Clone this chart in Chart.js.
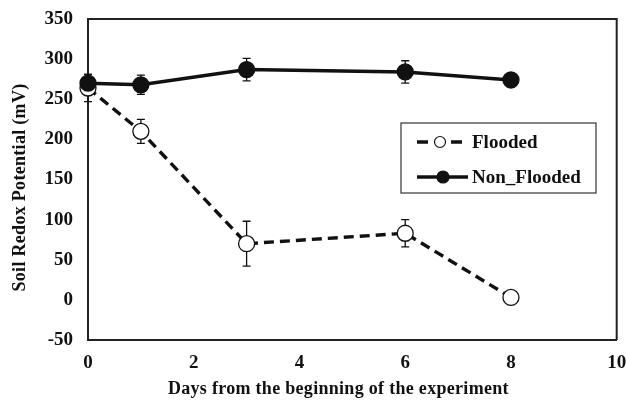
<!DOCTYPE html>
<html>
<head>
<meta charset="utf-8">
<script src="https://cdn.jsdelivr.net/npm/chart.js@4.4.1/dist/chart.umd.min.js"></script>
<style>
  html, body { margin: 0; padding: 0; background: #fff; }
  #wrap { width: 626px; height: 401px; }
</style>
</head>
<body>
<div id="wrap"><canvas id="myChart" width="626" height="401"></canvas></div>
<script>
// Days since start of the experiment
const days = [0, 1, 3, 6, 8];

// Soil redox potential (mV) and error bar half-widths
const flooded = [264, 210, 70, 83, 3];
const floodedErr = [17, 15, 28, 17, 4];
const nonFlooded = [270, 268, 287, 284, 274];
const nonFloodedErr = [11, 12, 14, 14, 4];

const xTicks = [0, 2, 4, 6, 8, 10];
const yTicks = [-50, 0, 50, 100, 150, 200, 250, 300, 350];

const xTitle = 'Days from the beginning of the experiment';
const yTitle = 'Soil Redox Potential (mV)';

const serif = "'Liberation Serif', 'Times New Roman', serif";
const ink = '#111';

function toPoints(values) {
    return days.map((d, i) => ({x: d, y: values[i]}));
}

// error bars drawn through the scales, under the markers
const errorBars = {
    id: 'errorBars',
    beforeDatasetsDraw(chart) {
        const {ctx, scales: {x, y}} = chart;
        const errs = [floodedErr, nonFloodedErr];
        ctx.save();
        ctx.strokeStyle = ink;
        ctx.lineWidth = 1.3;
        chart.data.datasets.forEach((ds, k) => {
            ds.data.forEach((p, i) => {
                const px = x.getPixelForValue(p.x);
                const top = y.getPixelForValue(p.y + errs[k][i]);
                const bot = y.getPixelForValue(p.y - errs[k][i]);
                ctx.beginPath();
                ctx.moveTo(px, top); ctx.lineTo(px, bot);
                ctx.moveTo(px - 4, top); ctx.lineTo(px + 4, top);
                ctx.moveTo(px - 4, bot); ctx.lineTo(px + 4, bot);
                ctx.stroke();
            });
        });
        ctx.restore();
    }
};

// frame, axis titles (letter-spaced like the original) and boxed legend
const frameAndLegend = {
    id: 'frameAndLegend',
    afterDraw(chart) {
        const {ctx, chartArea: a} = chart;
        ctx.save();
        ctx.strokeStyle = '#222';
        ctx.lineWidth = 2;
        ctx.beginPath();
        ctx.moveTo(a.left, a.top); ctx.lineTo(a.right, a.top); ctx.lineTo(a.right, a.bottom);
        ctx.stroke();

        ctx.fillStyle = ink;
        ctx.font = 'bold 18px ' + serif;
        ctx.letterSpacing = '0.3px';
        ctx.textAlign = 'center';
        ctx.textBaseline = 'middle';
        ctx.fillText(xTitle, (a.left + a.right) / 2 - 14, a.bottom + 49);
        ctx.save();
        ctx.translate(20, (a.top + a.bottom) / 2 + 8);
        ctx.rotate(-Math.PI / 2);
        ctx.fillText(yTitle, 0, 0);
        ctx.restore();
        ctx.letterSpacing = '0px';
        ctx.textAlign = 'left';

        const bx = a.left + 313, by = a.top + 104, bw = 195, bh = 70;
        ctx.lineWidth = 1.2;
        ctx.strokeStyle = '#333';
        ctx.strokeRect(bx, by, bw, bh);

        const rows = [
            {label: 'Flooded', dashed: true, fill: '#fff', r: 5.5, cx: bx + 39, y: by + 19},
            {label: 'Non_Flooded', dashed: false, fill: ink, r: 6, cx: bx + 42, y: by + 54}
        ];
        rows.forEach(r => {
            const x0 = bx + 16, x1 = bx + 67;
            ctx.lineWidth = 3.5;
            ctx.strokeStyle = ink;
            ctx.beginPath();
            if (r.dashed) {
                ctx.moveTo(x0, r.y); ctx.lineTo(x0 + 11, r.y);
                ctx.moveTo(bx + 50, r.y); ctx.lineTo(bx + 61, r.y);
            } else {
                ctx.moveTo(x0, r.y); ctx.lineTo(x1, r.y);
            }
            ctx.stroke();
            ctx.beginPath();
            ctx.arc(r.cx, r.y, r.r, 0, Math.PI * 2);
            ctx.fillStyle = r.fill;
            ctx.fill();
            ctx.lineWidth = 1.2;
            ctx.stroke();
            ctx.fillStyle = ink;
            ctx.font = 'bold 19px ' + serif;
            ctx.textBaseline = 'middle';
            ctx.fillText(r.label, bx + 71, r.y + 1);
        });
        ctx.restore();
    }
};

const myChart = new Chart(
    document.getElementById('myChart'),
    {
        type: 'line',
        data: {
            datasets: [
                {
                    label: 'Flooded',
                    data: toPoints(flooded),
                    borderColor: ink,
                    borderWidth: 3.4,
                    borderDash: [10, 6],
                    pointRadius: 8,
                    pointBorderWidth: 1.3,
                    pointBackgroundColor: '#fff',
                    pointBorderColor: ink,
                    tension: 0,
                    clip: false,
                    order: 2
                },
                {
                    label: 'Non_Flooded',
                    data: toPoints(nonFlooded),
                    borderColor: ink,
                    borderWidth: 3.4,
                    pointRadius: 8,
                    pointBorderWidth: 1.3,
                    pointBackgroundColor: ink,
                    pointBorderColor: ink,
                    tension: 0,
                    clip: false,
                    order: 1
                }
            ]
        },
        options: {
            responsive: false,
            animation: false,
            layout: {padding: {top: 19, right: 0, left: 0, bottom: 0}},
            plugins: {legend: {display: false}, tooltip: {enabled: false}},
            scales: {
                x: {
                    type: 'linear',
                    min: 0, max: 10,
                    afterBuildTicks: s => { s.ticks = xTicks.map(v => ({value: v})); },
                    afterFit: s => { s.height = 61; s.paddingRight = 8; s.paddingLeft = 0; },
                    grid: {display: false, drawTicks: true, tickLength: 5, tickColor: '#222'},
                    border: {color: '#222', width: 2},
                    ticks: {color: ink, font: {family: serif, size: 19, weight: 'bold'}, padding: 7},
                    title: {display: false}
                },
                y: {
                    min: -50, max: 350,
                    afterBuildTicks: s => { s.ticks = yTicks.map(v => ({value: v})); },
                    afterFit: s => { s.width = 88; s.paddingTop = 0; s.paddingBottom = 0; },
                    grid: {display: false, drawTicks: true, tickLength: 5, tickColor: '#222'},
                    border: {color: '#222', width: 2},
                    ticks: {color: ink, font: {family: serif, size: 19, weight: 'bold'}, padding: 10},
                    title: {display: false}
                }
            }
        },
        plugins: [errorBars, frameAndLegend]
    }
);
</script>
</body>
</html>
